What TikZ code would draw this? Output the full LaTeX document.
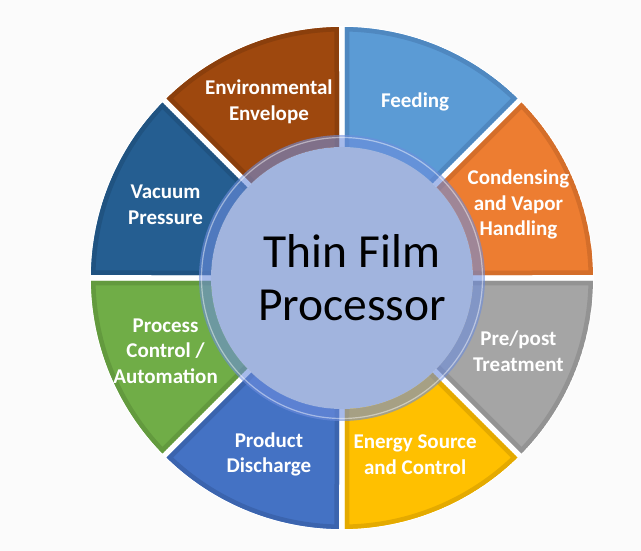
\documentclass[tikz,border=0pt]{standalone}
\usepackage{fontspec}
\setmainfont{Carlito}
\definecolor{bg}{RGB}{251,251,251}
\definecolor{feedC}{RGB}{91,155,213}\definecolor{feedB}{RGB}{79,136,192}
\definecolor{condC}{RGB}{237,125,49}\definecolor{condB}{RGB}{212,110,42}
\definecolor{preC}{RGB}{165,165,165}\definecolor{preB}{RGB}{147,147,147}
\definecolor{enC}{RGB}{255,192,0}\definecolor{enB}{RGB}{228,170,0}
\definecolor{prodC}{RGB}{68,114,196}\definecolor{prodB}{RGB}{59,100,174}
\definecolor{procC}{RGB}{112,173,71}\definecolor{procB}{RGB}{99,154,62}
\definecolor{vacC}{RGB}{37,94,145}\definecolor{vacB}{RGB}{32,83,129}
\definecolor{envC}{RGB}{158,72,14}\definecolor{envB}{RGB}{139,63,12}
\definecolor{ringC}{RGB}{108,140,220}
\definecolor{discC}{RGB}{161,180,222}
\tikzset{
  lbl/.style={font=\bfseries\fontsize{21}{25.5}\selectfont, text=white, align=center, inner sep=0pt},
  title/.style={font=\fontsize{47.5}{53}\selectfont, text=black, align=center, inner sep=0pt}
}
\newcommand\segpath[2]{({#1+0.685}:251) arc[start angle={#1+0.685}, end angle={#2-0.685}, radius=251] -- ({#2-1.43}:120) arc[start angle={#2-1.43}, end angle={#1+1.43}, radius=120] -- cycle}
\newcommand\mysegment[4]{%
  \begin{scope}
    \clip \segpath{#1}{#2};
    \fill[#3] \segpath{#1}{#2};
    \draw[#4, line width=9pt] \segpath{#1}{#2};
  \end{scope}}
\begin{document}
\begin{tikzpicture}[x=1pt,y=1pt]
  \fill[bg] (-342,-273) rectangle (299,278);
  \useasboundingbox (-342,-273) rectangle (299,278);
  \fill[white] (0,0) circle (252);
  \mysegment{45}{90}{feedC}{feedB}
  \mysegment{0}{45}{condC}{condB}
  \mysegment{-45}{0}{preC}{preB}
  \mysegment{-90}{-45}{enC}{enB}
  \mysegment{-135}{-90}{prodC}{prodB}
  \mysegment{180}{225}{procC}{procB}
  \mysegment{135}{180}{vacC}{vacB}
  \mysegment{90}{135}{envC}{envB}
  % central ring and disc
  \fill[ringC, opacity=0.6, even odd rule] (0,0) circle (143) (0,0) circle (131);
  \draw[white, opacity=0.45, line width=1.2pt] (0,0) circle (140.5);
  \fill[discC] (0,0) circle (131);
  % labels
  \node[lbl] (feed) at ({67.5}:191) {Feeding};
  \node[lbl] (cond) at ({22.5}:191) {Condensing\\and Vapor\\Handling};
  \node[lbl] (pre) at ({-22.5}:191) {Pre/post\\Treatment};
  \node[lbl] (energy) at ({-67.5}:191) {Energy Source\\and Control};
  \node[lbl] (prod) at ({-112.5}:191) {Product\\Discharge};
  \node[lbl] (proc) at ({-157.5}:191) {Process\\Control /\\Automation};
  \node[lbl] (vac) at ({157.5}:191) {Vacuum\\Pressure};
  \node[lbl] (env) at ({112.5}:191) {Environmental\\Envelope};
  \node[title] (center) at (10,0) {Thin Film\\Processor};
\end{tikzpicture}
\end{document}
